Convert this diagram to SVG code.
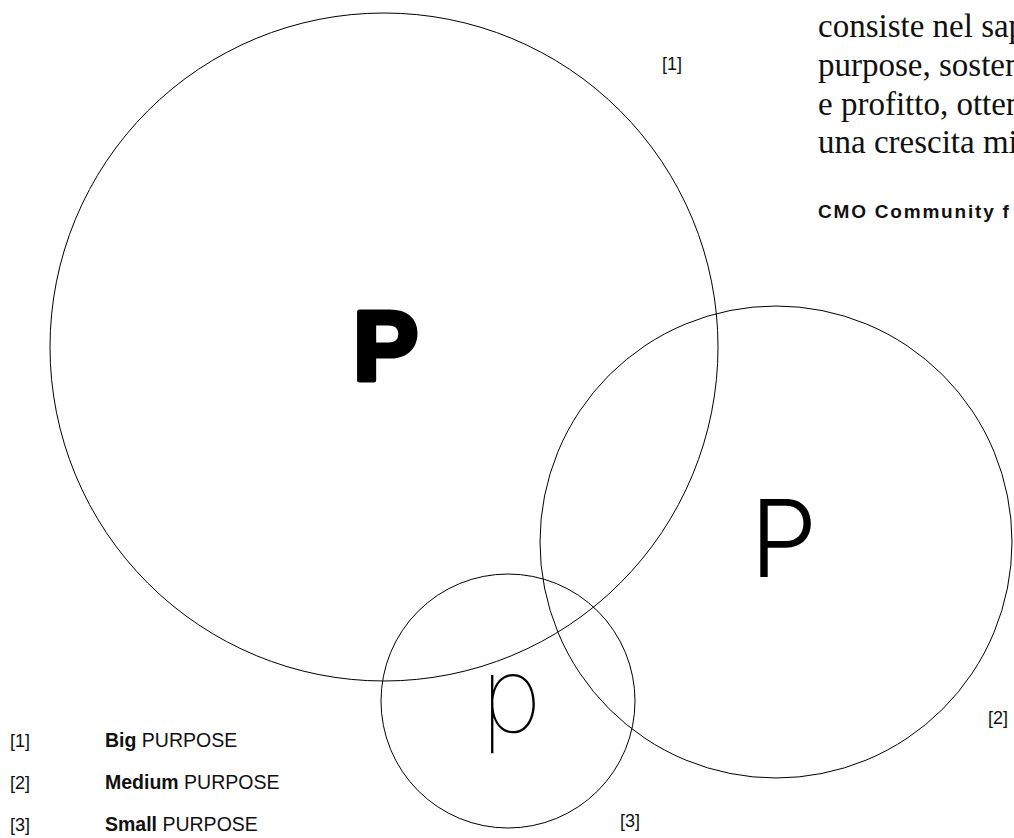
<svg xmlns="http://www.w3.org/2000/svg" width="1014" height="838" viewBox="0 0 1014 838">
<style>
.c{fill:none;stroke:#000;stroke-width:1}
.lbl{font-family:"Liberation Sans",Arial,sans-serif;font-size:18px;fill:#111}
.leg{font-family:"Liberation Sans",Arial,sans-serif;font-size:19.5px;fill:#111}
.b{font-weight:bold}
.quote{font-family:"Liberation Serif","Times New Roman",serif;font-size:33px;fill:#111}
</style>
<rect width="1014" height="838" fill="#fff"/>
<g id="big">
<circle class="c" cx="384" cy="347" r="334"/>
<text x="353" y="379.5" font-family="'Liberation Sans',Arial,sans-serif" font-weight="bold" font-size="98" fill="#000" stroke="#000" stroke-width="5" stroke-linejoin="round">P</text>
<text class="lbl" x="662" y="70">[1]</text>
</g>
<g id="medium">
<circle class="c" cx="776" cy="542" r="236"/>
<text x="750" y="577" font-family="Inter,'Liberation Sans',sans-serif" font-weight="300" font-size="107" fill="#000">P</text>
<text class="lbl" x="988" y="724">[2]</text>
</g>
<g id="small">
<circle class="c" cx="508" cy="701" r="127"/>
<text x="481" y="732" font-family="Inter,'Liberation Sans',sans-serif" font-weight="100" font-size="104" fill="#000">p</text>
<text class="lbl" x="620" y="827">[3]</text>
</g>
<g id="quote">
<text class="quote" x="818" y="37">consiste nel sap</text>
<text class="quote" x="818" y="76">purpose, sosten</text>
<text class="quote" x="818" y="114.5">e profitto, otten</text>
<text class="quote" x="818" y="153">una crescita mi</text>
<text x="818" y="218" font-family="'Liberation Sans',Arial,sans-serif" font-weight="bold" font-size="19" letter-spacing="1.8" fill="#111">CMO Community f</text>
</g>
<g id="legend">
<text class="lbl" x="10" y="747">[1]</text>
<text class="leg" x="105" y="747"><tspan class="b">Big</tspan> PURPOSE</text>
<text class="lbl" x="10" y="789">[2]</text>
<text class="leg" x="105" y="789"><tspan class="b">Medium</tspan> PURPOSE</text>
<text class="lbl" x="10" y="831">[3]</text>
<text class="leg" x="105" y="831"><tspan class="b">Small</tspan> PURPOSE</text>
</g>
<g id="connectors"/>
</svg>
